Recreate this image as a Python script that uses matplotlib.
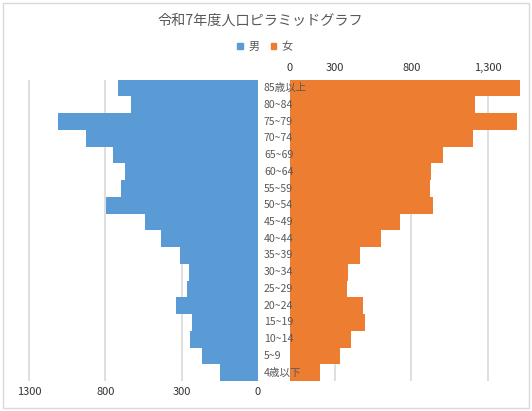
import matplotlib
matplotlib.use("Agg")
import matplotlib.pyplot as plt
from matplotlib.patches import Patch, Rectangle
from matplotlib.transforms import blended_transform_factory

plt.rcParams["font.family"] = ["Noto Sans CJK JP", "DejaVu Sans"]

# ============================================================
# データ（下から上へ：4歳以下 → 85歳以上）
# ============================================================
age_labels = ["4歳以下", "5~9", "10~14", "15~19", "20~24", "25~29", "30~34",
              "35~39", "40~44", "45~49", "50~54", "55~59", "60~64", "65~69",
              "70~74", "75~79", "80~84", "85歳以上"]
male = [247, 365, 447, 432, 534, 463, 454, 510, 636, 739,
        995, 895, 872, 950, 1126, 1308, 834, 917]
female = [200, 334, 401, 494, 483, 374, 385, 461, 601, 723,
          941, 919, 930, 1008, 1202, 1495, 1219, 1509]

left_ticks = [0, 500, 1000, 1500]
left_ticklabels = ["0", "300", "800", "1300"]
right_ticks = [0, 300, 800, 1300]
right_ticklabels = ["0", "300", "800", "1,300"]

BLUE = "#5B9BD5"
ORANGE = "#ED7D31"
GRID = "#D9D9D9"
GRAY = "#595959"
DARK = "#333333"

W, H = 532, 411
fig = plt.figure(figsize=(W / 100, H / 100), dpi=100)

y = list(range(len(age_labels)))

# 男（左）
ax_l = fig.add_axes([19.9 / W, 30 / H, 237.9 / W, 301.3 / H])
ax_l.barh(y, male, height=1.0, color=BLUE, zorder=2)
ax_l.set_xlim(1560, 0)
ax_l.set_ylim(-0.5, len(age_labels) - 0.5)
ax_l.set_xticks(left_ticks)
ax_l.set_xticklabels(left_ticklabels)
ax_l.tick_params(axis="x", length=0, pad=4, labelsize=8, labelcolor=DARK)
ax_l.set_yticks([])
ax_l.grid(axis="x", color=GRID, linewidth=1.2, zorder=0)

# 女（右）
ax_r = fig.add_axes([289.5 / W, 30 / H, 233.3 / W, 301.3 / H])
ax_r.barh(y, female, height=1.0, color=ORANGE, zorder=2)
ax_r.set_xlim(0, 1530)
ax_r.set_ylim(-0.5, len(age_labels) - 0.5)
ax_r.xaxis.tick_top()
ax_r.set_xticks(right_ticks)
ax_r.set_xticklabels(right_ticklabels)
ax_r.tick_params(axis="x", length=0, pad=5, labelsize=8, labelcolor=DARK)
ax_r.set_yticks([])
ax_r.grid(axis="x", color=GRID, linewidth=1.2, zorder=0)

for ax in (ax_l, ax_r):
    ax.set_axisbelow(True)
    for s in ax.spines.values():
        s.set_visible(False)

# 年齢ラベル（中央）
trans = blended_transform_factory(fig.transFigure, ax_r.transData)
for yi, lab in zip(y, age_labels):
    fig.text(264 / W, yi, lab, transform=trans, ha="left", va="center",
             fontsize=7.6, color=GRAY, zorder=5)

# タイトル・凡例
fig.text(260 / W, 1 - 20.7 / H, "令和7年度人口ピラミッドグラフ", ha="center",
         va="center", fontsize=10.2, color=GRAY)
handles = [Patch(color=BLUE, label="男"), Patch(color=ORANGE, label="女")]
fig.legend(handles=handles, loc="center", bbox_to_anchor=(265 / W, 1 - 46.7 / H),
           ncol=2, frameon=False, fontsize=8, labelcolor=GRAY,
           handlelength=0.5, handleheight=0.5, handletextpad=0.5,
           columnspacing=1.0)

# 枠線
fig.patches.append(Rectangle((2.7 / W, 3 / H), 526.5 / W, 405 / H,
                             transform=fig.transFigure, fill=False,
                             edgecolor=GRID, linewidth=1))

plt.savefig("out.png", dpi=100)
plt.close()
